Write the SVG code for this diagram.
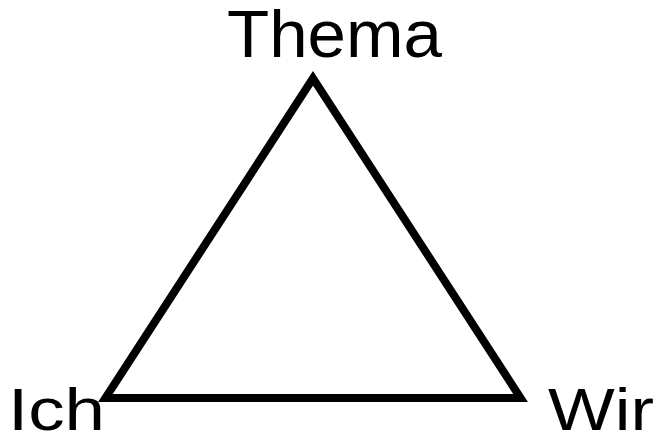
<svg xmlns="http://www.w3.org/2000/svg" width="657" height="437" viewBox="0 0 657 437">
  <style>
    .lbl { font-family: "Liberation Sans", Arial, sans-serif; fill: #000; }
    .edge { fill: none; stroke: #000; stroke-width: 8; stroke-linejoin: miter; }
  </style>
  <rect width="657" height="437" fill="#fff"/>
  <g id="connectors">
    <polygon class="edge" points="313,78.3 105.4,398 520.6,398"/>
  </g>
  <g id="node-thema">
    <text class="lbl" x="227" y="57" font-size="66" textLength="215" lengthAdjust="spacingAndGlyphs">Thema</text>
  </g>
  <g id="node-ich">
    <text class="lbl" x="8" y="430" font-size="60" textLength="97" lengthAdjust="spacingAndGlyphs">Ich</text>
  </g>
  <g id="node-wir">
    <text class="lbl" x="548" y="430" font-size="60" textLength="106" lengthAdjust="spacingAndGlyphs">Wir</text>
  </g>
</svg>
